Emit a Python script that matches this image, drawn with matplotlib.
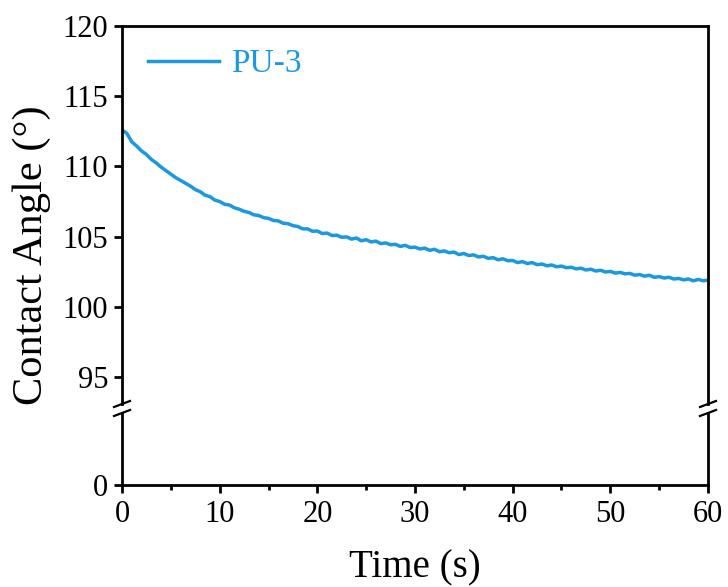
import matplotlib
matplotlib.use("Agg")
import matplotlib.pyplot as plt
from matplotlib.lines import Line2D
import numpy as np

# ---- data ----
time_s = [i * 0.5 for i in range(121)]
contact_angle = [
    112.6, 112.35, 111.75, 111.45, 111.1, 110.85, 110.5, 110.25, 109.95, 109.7,
    109.45, 109.2, 109.0, 108.8, 108.6, 108.35, 108.2, 107.95, 107.85, 107.6,
    107.5, 107.3, 107.25, 107.05, 106.95, 106.8, 106.72, 106.55, 106.5, 106.35,
    106.3, 106.15, 106.12, 105.95, 105.92, 105.78, 105.72, 105.55, 105.55, 105.38,
    105.4, 105.22, 105.25, 105.08, 105.1, 104.95, 104.98, 104.82, 104.9, 104.7,
    104.78, 104.62, 104.68, 104.5, 104.55, 104.42, 104.45, 104.3, 104.38, 104.22,
    104.25, 104.12, 104.18, 104.02, 104.1, 103.92, 103.98, 103.85, 103.9, 103.72,
    103.8, 103.65, 103.7, 103.55, 103.6, 103.45, 103.5, 103.35, 103.42, 103.28,
    103.3, 103.15, 103.22, 103.08, 103.15, 103.0, 103.05, 102.92, 102.98, 102.85,
    102.9, 102.78, 102.82, 102.7, 102.75, 102.62, 102.68, 102.55, 102.6, 102.48,
    102.52, 102.4, 102.45, 102.35, 102.38, 102.25, 102.3, 102.18, 102.25, 102.1,
    102.15, 102.05, 102.1, 101.98, 102.02, 101.92, 101.98, 101.85, 101.95, 101.85,
    101.9,
]
series_label = "PU-3"
upper_yticks = [95, 100, 105, 110, 115, 120]
lower_yticks = [0]
xticks = [0, 10, 20, 30, 40, 50, 60]
xminor = [5, 15, 25, 35, 45, 55]

# ---- style ----
plt.rcParams['font.family'] = ['Liberation Serif', 'DejaVu Serif']
color = '#1a98e0'
W, H = 728, 587
fig = plt.figure(figsize=(W / 100, H / 100), dpi=100)

L, R = 122, 708
top_px, up_bot_px, lo_top_px, bot_px = 26, 404, 413, 485

def fx(px):
    return px / W

def fy(py):
    return 1 - py / H

ax_up = fig.add_axes([fx(L), fy(up_bot_px), fx(R) - fx(L), fy(top_px) - fy(up_bot_px)])
ax_lo = fig.add_axes([fx(L), fy(bot_px), fx(R) - fx(L), fy(lo_top_px) - fy(bot_px)])

lw_spine = 2.0
for ax in (ax_up, ax_lo):
    for s in ax.spines.values():
        s.set_linewidth(lw_spine)
    ax.set_xlim(0, 60)
    ax.tick_params(axis='both', which='major', direction='out', length=6, width=2,
                   labelsize=22, pad=4)
    ax.tick_params(axis='both', which='minor', direction='out', length=3.5, width=2)

ax_up.spines['bottom'].set_visible(False)
ax_lo.spines['top'].set_visible(False)

ax_up.set_ylim(120 - (up_bot_px - top_px) / 14.04, 120)
ax_up.set_yticks(upper_yticks)
ax_up.set_xticks([])
ax_up.tick_params(axis='x', which='both', bottom=False, labelbottom=False)

ax_lo.set_ylim(0, 10)
ax_lo.set_yticks(lower_yticks)
ax_lo.set_xticks(xticks)
ax_lo.set_xticks(xminor, minor=True)
ax_lo.tick_params(axis='x', which='major', pad=5)

ax_up.plot(time_s, contact_angle, color=color, lw=2.5, label=series_label, clip_on=True)

leg = ax_up.legend(loc='upper left', bbox_to_anchor=(0.044, 0.94), frameon=False,
                   fontsize=24, handlelength=2.15, handletextpad=0.35,
                   borderaxespad=0, borderpad=0)
for t in leg.get_texts():
    t.set_color(color)

# break marks
for xpx in (L, R):
    for ypx in (up_bot_px, lo_top_px):
        fig.add_artist(Line2D([fx(xpx - 8), fx(xpx + 8)], [fy(ypx + 3), fy(ypx - 3)],
                              color='black', lw=1.6, transform=fig.transFigure))

fig.text(0.044, fy((top_px + bot_px) / 2), 'Contact Angle (°)', rotation=90,
         ha='center', va='center', fontsize=30.5)
fig.text(fx((L + R) / 2), fy(577), 'Time (s)', ha='center', va='baseline', fontsize=28)

fig.savefig('out.png', dpi=100)
